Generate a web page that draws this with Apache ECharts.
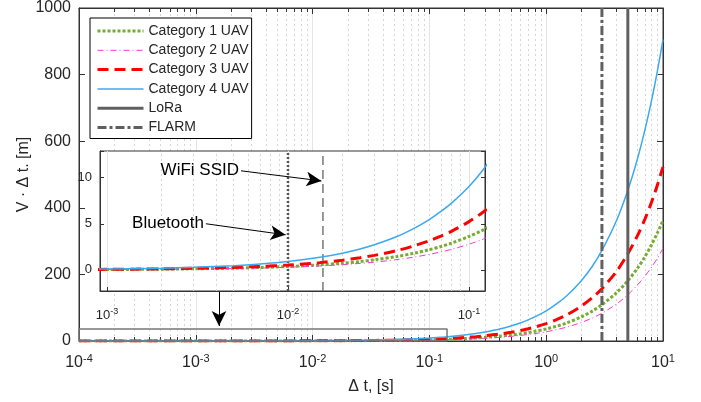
<!DOCTYPE html>
<html><head><meta charset="utf-8">
<script src="https://cdn.jsdelivr.net/npm/echarts@6/dist/echarts.min.js"></script>
<style>html,body{margin:0;padding:0;background:#fff}#c{width:701px;height:402px}</style>
</head><body><div id="c"></div>
<script>
// sample times (s)
const xs   = [0.0001,0.0003,0.001,0.002,0.003,0.005,0.007,0.01,0.015,0.02,0.025,0.03,0.04,0.05,0.06,0.07,0.08,0.1,0.12,0.15,0.2,0.25,0.3,0.4,0.5,0.6,0.7,0.8,1,1.2,1.5,2,2.5,3,4,5,6,7,8,9,10];
// V·Δt (m)
const cat1 = [0.0036,0.011,0.036,0.072,0.11,0.18,0.25,0.36,0.54,0.72,0.9,1.09,1.45,1.81,2.17,2.53,2.9,3.62,4.34,5.43,7.24,9.05,10.9,14.5,18.1,21.7,25.3,29,36.2,43.4,54.3,72.4,90.5,109,145,181,217,253,290,326,362];
const cat2 = [0.0028,0.0083,0.028,0.056,0.083,0.14,0.19,0.28,0.42,0.56,0.7,0.83,1.11,1.39,1.67,1.95,2.22,2.78,3.34,4.17,5.56,6.95,8.34,11.1,13.9,16.7,19.5,22.2,27.8,33.4,41.7,55.6,69.5,83.4,111,139,167,195,222,250,278];
const cat3 = [0.0052,0.016,0.052,0.10,0.16,0.26,0.37,0.52,0.78,1.05,1.31,1.57,2.09,2.62,3.14,3.66,4.18,5.23,6.28,7.85,10.5,13.1,15.7,20.9,26.2,31.4,36.6,41.8,52.3,62.8,78.5,105,131,157,209,262,314,366,418,471,523];
const cat4 = [0.009,0.027,0.09,0.18,0.27,0.45,0.63,0.9,1.36,1.81,2.26,2.72,3.62,4.53,5.43,6.34,7.24,9.05,10.9,13.6,18.1,22.6,27.2,36.2,45.3,54.3,63.4,72.4,90.5,109,136,181,226,272,362,453,543,634,724,815,905];
const loraX = 5, flarmX = 3, bluetoothX = 0.01, wifiX = 0.0156;
const mainYRange = [0, 1000];
const insetXRange = [0.000915, 0.1226];
const insetYRange = [-2.3, 12.9];
const zoomRectX = [0.0001, 0.1416], zoomRectY = [0, 36];
const minorMain = [];
[0.0001,0.001,0.01,0.1,1].forEach(d=>{for(let k=2;k<=9;k++) minorMain.push(+(d*k).toPrecision(3));});
const minorInset = [];
[0.001,0.01].forEach(d=>{for(let k=2;k<=9;k++) minorInset.push(+(d*k).toPrecision(3));});
const names = ['Category 1 UAV','Category 2 UAV','Category 3 UAV','Category 4 UAV','LoRa','FLARM'];

const FONT = 'Liberation Sans, Arial, sans-serif';
const TXT = '#262626';
const pair = arr => xs.map((x,i)=>[x, arr[i]]);
function logLabel(v){
  const e = Math.log10(v), r = Math.round(e);
  if (Math.abs(e - r) > 1e-6) return '';
  return '{b|10}{sup|' + r + '}';
}
const styles = [
  {color:'#77AC30', width:3, type:[3,2]},
  {color:'#FF33CC', width:1, type:[6,3,1,3]},
  {color:'#FF0000', width:3, type:[11,6]},
  {color:'#3BA9F2', width:1.5, type:'solid'},
  {color:'#606060', width:3, type:'solid'},
  {color:'#606060', width:3, type:[9,3,3,3]}
];
const catData = [cat1,cat2,cat3,cat4];
const minorTickLen = 12; // in y units of the main axis

const series = [];
// minor grid (main)
series.push({type:'line', xAxisIndex:0, yAxisIndex:0, data:[], z:1, silent:true,
  markLine:{silent:true, symbol:'none', animation:false, z:1, label:{show:false},
    lineStyle:{color:'#d6d6d6', type:[2,3], width:1},
    data: minorMain.map(v=>[{coord:[v,mainYRange[0]]},{coord:[v,mainYRange[1]]}])}});
// minor ticks (main, bottom + top)
series.push({type:'line', xAxisIndex:0, yAxisIndex:0, data:[], z:2, silent:true,
  markLine:{silent:true, symbol:'none', animation:false, z:2, label:{show:false},
    lineStyle:{color:'#333', type:'solid', width:1},
    data: minorMain.flatMap(v=>[[{coord:[v,mainYRange[0]]},{coord:[v,mainYRange[0]+minorTickLen]}],
                                [{coord:[v,mainYRange[1]-minorTickLen]},{coord:[v,mainYRange[1]]}]])}});
catData.forEach((d,i)=>series.push({name:names[i], type:'line', xAxisIndex:0, yAxisIndex:0, smooth:0.3,
  data:pair(d), symbol:'none', z:3, lineStyle:styles[i], itemStyle:{color:styles[i].color}}));
series.push({name:'LoRa', type:'line', xAxisIndex:0, yAxisIndex:0, data:[[loraX,mainYRange[0]],[loraX,mainYRange[1]]],
  symbol:'none', z:3, lineStyle:styles[4], itemStyle:{color:styles[4].color}});
series.push({name:'FLARM', type:'line', xAxisIndex:0, yAxisIndex:0, data:[[flarmX,mainYRange[0]],[flarmX,mainYRange[1]]],
  symbol:'none', z:3, lineStyle:styles[5], itemStyle:{color:styles[5].color}});
// zoom rectangle
series.push({type:'line', xAxisIndex:0, yAxisIndex:0, symbol:'none', z:4, silent:true,
  data:[[zoomRectX[0],zoomRectY[0]],[zoomRectX[1],zoomRectY[0]],[zoomRectX[1],zoomRectY[1]],[zoomRectX[0],zoomRectY[1]],[zoomRectX[0],zoomRectY[0]]],
  lineStyle:{color:'#777', width:1.5}});
// arrow from inset to rectangle
series.push({type:'line', xAxisIndex:0, yAxisIndex:0, data:[], z:4, silent:true,
  markLine:{silent:true, animation:false, z:6, symbol:['none','arrow'], symbolSize:[11,15], label:{show:false},
    lineStyle:{color:'#000', width:1, type:'solid'},
    data:[[{coord:[0.00158,149]},{coord:[0.00158,45]}]]}});

// inset
series.push({type:'line', xAxisIndex:2, yAxisIndex:2, data:[], z:11, silent:true,
  markLine:{silent:true, symbol:'none', animation:false, z:11, label:{show:false},
    lineStyle:{color:'#d6d6d6', type:[2,3], width:1},
    data: minorInset.map(v=>[{coord:[v,insetYRange[0]]},{coord:[v,insetYRange[1]]}])}});
catData.forEach((d,i)=>series.push({name:names[i], type:'line', xAxisIndex:2, yAxisIndex:2, smooth:0.3,
  data:pair(d), symbol:'none', z:13, lineStyle:styles[i], itemStyle:{color:styles[i].color}}));
series.push({type:'line', xAxisIndex:2, yAxisIndex:2, symbol:'none', z:12, silent:true,
  data:[[bluetoothX,insetYRange[0]],[bluetoothX,insetYRange[1]]], lineStyle:{color:'#555', width:2.5, type:[2,2]}});
series.push({type:'line', xAxisIndex:2, yAxisIndex:2, symbol:'none', z:12, silent:true,
  data:[[wifiX,insetYRange[0]],[wifiX,insetYRange[1]]], lineStyle:{color:'#777', width:1.5, type:[9,5]}});
// annotations
series.push({type:'line', xAxisIndex:2, yAxisIndex:2, data:[], z:14, silent:true,
  markLine:{silent:true, animation:false, z:15, symbol:['none','arrow'], symbolSize:[11,15], label:{show:false},
    lineStyle:{color:'#000', width:1, type:'solid'},
    data:[[{coord:[0.0055,10.75]},{coord:[0.0153,9.65]}],
          [{coord:[0.00352,5.0]},{coord:[0.0097,3.8]}]]},
  markPoint:{silent:true, animation:false, z:15, symbol:'circle', symbolSize:0,
    label:{show:true, position:'left', distance:2, color:'#000', fontSize:17, fontFamily:FONT, formatter:p=>p.name},
    data:[{name:'WiFi SSID', coord:[0.0055,10.75]},{name:'Bluetooth', coord:[0.00352,5.0]}]}});

const axisLineC = '#333';
const option = {
  animation:false,
  backgroundColor:'#fff',
  textStyle:{fontFamily:FONT},
  grid:[
    {left:79, top:6, right:38, bottom:61, show:true, borderColor:axisLineC, borderWidth:1, backgroundColor:'#fff'},
    {left:100, top:151, width:385, height:140, show:true, borderColor:axisLineC, borderWidth:1, backgroundColor:'#fff', z:10}
  ],
  legend:{
    orient:'vertical', left:90, top:18, itemWidth:46, itemHeight:14, itemGap:5.3, z:20,
    padding:[6,3,4,6], borderColor:'#000', borderWidth:1, backgroundColor:'#fff',
    textStyle:{fontSize:14, color:TXT, fontFamily:FONT},
    itemStyle:{opacity:0},
    data: names.map((n,i)=>({name:n, itemStyle:{opacity:0, borderWidth:0},
      lineStyle:{width:styles[i].width, type:styles[i].type, color:styles[i].color, opacity:1}}))
  },
  xAxis:[
    {type:'log', logBase:10, gridIndex:0, min:1e-4, max:10,
      name:'Δ t, [s]', nameLocation:'middle', nameGap:38,
      nameTextStyle:{fontSize:16, color:TXT},
      axisLine:{onZero:false, lineStyle:{color:axisLineC}}, axisTick:{inside:true, length:6, lineStyle:{color:axisLineC}},
      axisLabel:{margin:12, color:TXT, formatter:logLabel,
        rich:{b:{fontSize:16, color:TXT, fontFamily:FONT}, sup:{fontSize:11, color:TXT, fontFamily:FONT, padding:[0,0,9,0]}}},
      splitLine:{show:true, lineStyle:{color:'#e4e4e4', width:1}}},
    {type:'log', logBase:10, gridIndex:0, min:1e-4, max:10, position:'top',
      axisLine:{onZero:false, lineStyle:{color:axisLineC}}, axisTick:{inside:true, length:6, lineStyle:{color:axisLineC}},
      axisLabel:{show:false}, splitLine:{show:false}},
    {type:'log', logBase:10, gridIndex:1, min:insetXRange[0], max:insetXRange[1], z:11,
      axisLine:{onZero:false, lineStyle:{color:axisLineC}}, axisTick:{inside:true, length:4, lineStyle:{color:axisLineC}},
      axisLabel:{margin:16, color:TXT, formatter:logLabel, showMinLabel:true, showMaxLabel:true,
        rich:{b:{fontSize:13, color:TXT, fontFamily:FONT}, sup:{fontSize:9, color:TXT, fontFamily:FONT, padding:[0,0,7,0]}}},
      splitLine:{show:true, lineStyle:{color:'#e4e4e4', width:1}}}
  ],
  yAxis:[
    {type:'value', gridIndex:0, min:mainYRange[0], max:mainYRange[1], interval:200,
      name:'V · Δ t. [m]', nameLocation:'middle', nameGap:47, nameMoveOverlap:false, nameTextStyle:{fontSize:16, color:TXT},
      axisLine:{show:true, onZero:false, lineStyle:{color:axisLineC}}, axisTick:{show:true, inside:true, length:6, lineStyle:{color:axisLineC}},
      axisLabel:{fontSize:16, color:TXT, margin:8, formatter:v=>String(v)}, splitLine:{show:false}},
    {type:'value', gridIndex:0, min:mainYRange[0], max:mainYRange[1], interval:200, position:'right',
      axisLine:{show:true, onZero:false, lineStyle:{color:axisLineC}}, axisTick:{show:true, inside:true, length:6, lineStyle:{color:axisLineC}},
      axisLabel:{show:false}, splitLine:{show:false}},
    {type:'value', gridIndex:1, min:insetYRange[0], max:insetYRange[1], splitNumber:3, z:11,
      axisLine:{show:true, onZero:false, lineStyle:{color:axisLineC}}, axisTick:{show:true, inside:true, length:4, lineStyle:{color:axisLineC}},
      axisLabel:{fontSize:13, color:TXT, margin:8, formatter:v=>(Math.abs(v%5)<1e-9?String(v):'')}, splitLine:{show:false}},
    {type:'value', gridIndex:1, min:insetYRange[0], max:insetYRange[1], splitNumber:3, position:'right', z:11,
      axisLine:{show:true, onZero:false, lineStyle:{color:axisLineC}}, axisTick:{show:true, inside:true, length:4, lineStyle:{color:axisLineC}},
      axisLabel:{show:false}, splitLine:{show:false}}
  ],
  series: series
};
const chart = echarts.init(document.getElementById('c'), null, {renderer:'canvas'});
chart.setOption(option);
</script></body></html>
